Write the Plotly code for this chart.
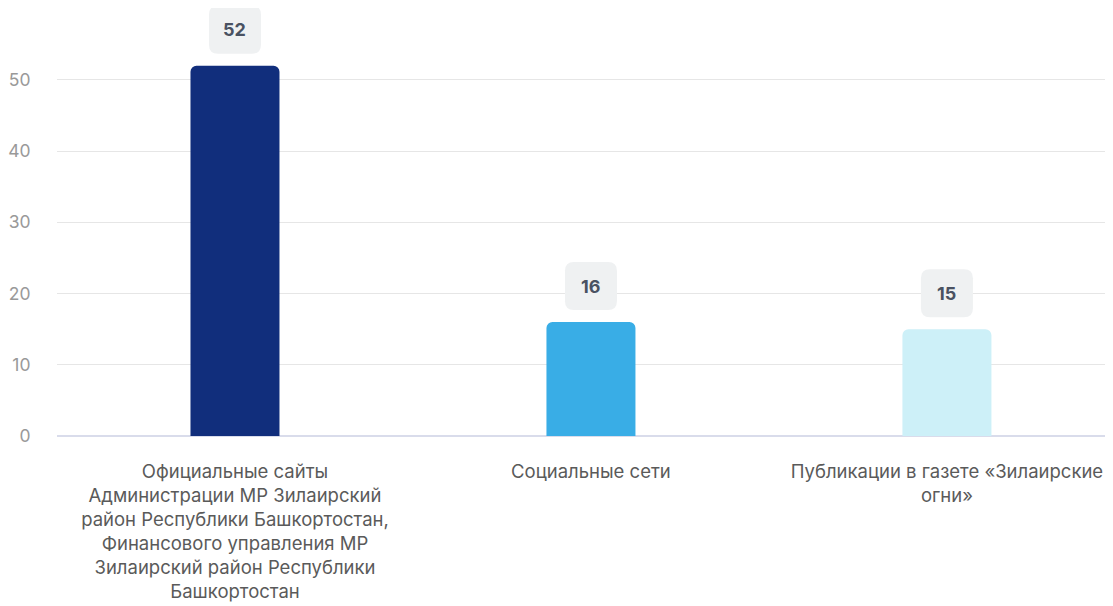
import plotly.graph_objects as go

categories = [
    "Официальные сайты<br>Администрации МР Зилаирский<br>район Республики Башкортостан,<br>Финансового управления МР<br>Зилаирский район Республики<br>Башкортостан",
    "Социальные сети",
    "Публикации в газете «Зилаирские<br>огни»",
]
values = [52, 16, 15]
colors = ["#112e7c", "#39ade6", "#cdf0f8"]
y_ticks = [0, 10, 20, 30, 40, 50]

fig = go.Figure()
fig.add_trace(go.Bar(
    x=categories, y=values, marker_color=colors, width=0.25,
    marker_line_width=0, hoverinfo="skip",
))

def rounded_rect(x0, y0, x1, y1, r):
    return (f"M{x0+r},{y0} L{x1-r},{y0} Q{x1},{y0} {x1},{y0+r} "
            f"L{x1},{y1-r} Q{x1},{y1} {x1-r},{y1} L{x0+r},{y1} "
            f"Q{x0},{y1} {x0},{y1-r} L{x0},{y0+r} Q{x0},{y0} {x0+r},{y0} Z")

for c, v in zip(categories, values):
    fig.add_shape(
        type="path", xref="x", yref="y",
        xsizemode="pixel", ysizemode="pixel",
        xanchor=c, yanchor=v,
        path=rounded_rect(-26, 12, 26, 60, 9),
        fillcolor="#eff1f2", line_width=0, layer="above",
    )
    fig.add_annotation(
        x=c, y=v, yshift=36, text=f"<b>{v}</b>", showarrow=False,
        font=dict(size=18, color="#4a5262", family="Inter"),
    )

fig.update_layout(
    width=1113, height=606,
    margin=dict(l=49, r=0, t=0, b=178),
    plot_bgcolor="white", paper_bgcolor="white",
    showlegend=False,
    barcornerradius=6,
    font=dict(family="Inter"),
    xaxis=dict(
        range=[-0.5, 2.489], showgrid=False, showline=False,
        tickfont=dict(size=18.5, color="#5a5a5a", family="Inter"),
        ticks="outside", ticklen=19, tickcolor="rgba(0,0,0,0)",
        automargin=False,
    ),
    yaxis=dict(
        range=[0, 60.1], tickvals=y_ticks, gridcolor="#e6e6e6", gridwidth=1,
        zeroline=True, zerolinecolor="#d9dceb", zerolinewidth=2,
        tickfont=dict(size=17.5, color="#999999", family="Inter"),
        ticks="outside", ticklen=22, tickcolor="rgba(0,0,0,0)",
        automargin=False,
    ),
)

fig.write_html("out.html")
